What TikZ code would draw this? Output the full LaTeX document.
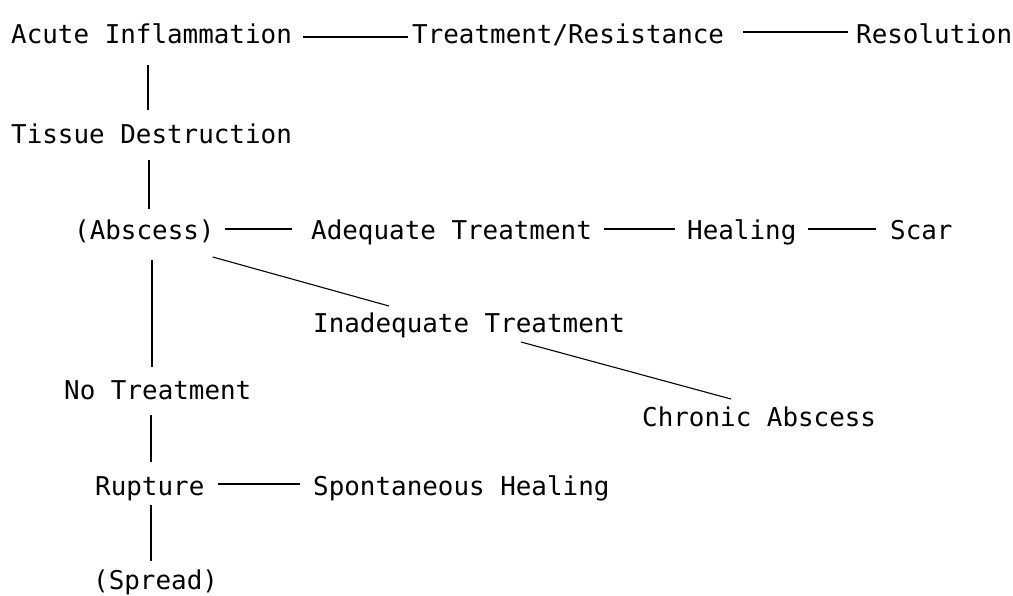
\documentclass[tikz,border=0pt]{standalone}
\usepackage{fontspec}
\newfontfamily\twfont{DejaVu Sans Mono}
\begin{document}
\begin{tikzpicture}[x=1pt,y=-1pt,
  lbl/.style={anchor=base west,inner sep=0pt,font=\twfont\fontsize{25.9pt}{30pt}\selectfont},
  link/.style={line width=1.1pt,black}]
\useasboundingbox (0,0) rectangle (1013,595);
% nodes
\node[lbl] (AI)   at (11,43)  {Acute Inflammation};
\node[lbl] (TR)   at (412,43) {Treatment/Resistance};
\node[lbl] (Res)  at (856,43) {Resolution};
\node[lbl] (TD)   at (11,143) {Tissue Destruction};
\node[lbl] (Abs)  at (74,239) {(Abscess)};
\node[lbl] (AT)   at (311,239) {Adequate Treatment};
\node[lbl] (Heal) at (687,239) {Healing};
\node[lbl] (Scar) at (890,239) {Scar};
\node[lbl] (IT)   at (313,332) {Inadequate Treatment};
\node[lbl] (NT)   at (64,399) {No Treatment};
\node[lbl] (CA)   at (642,426) {Chronic Abscess};
\node[lbl] (Rup)  at (95,495) {Rupture};
\node[lbl] (SH)   at (313,495) {Spontaneous Healing};
\node[lbl] (Spr)  at (93,589) {(Spread)};
% horizontal connectors
\draw[link] ([xshift=11pt,yshift=6pt]AI.base east) -- ([xshift=-4pt,yshift=6pt]TR.base west);
\draw[link] ([xshift=19pt,yshift=11pt]TR.base east) -- ([xshift=-8pt,yshift=11pt]Res.base west);
\draw[link] ([xshift=10pt,yshift=10pt]Abs.base east) -- ([xshift=-19pt,yshift=10pt]AT.base west);
\draw[link] ([xshift=12pt,yshift=10pt]AT.base east) -- ([xshift=-12pt,yshift=10pt]Heal.base west);
\draw[link] ([xshift=11pt,yshift=10pt]Heal.base east) -- ([xshift=-14pt,yshift=10pt]Scar.base west);
\draw[link] ([xshift=13pt,yshift=11pt]Rup.base east) -- ([xshift=-13pt,yshift=11pt]SH.base west);
% diagonal connectors
\draw[link] ([xshift=-2pt,yshift=-18pt]Abs.base east) -- ([xshift=76pt,yshift=26pt]IT.base west);
\draw[link] ([xshift=208pt,yshift=-10pt]IT.base west) -- ([xshift=89pt,yshift=27pt]CA.base west);
% vertical connectors
\draw[link] ([xshift=137pt,yshift=-22pt]AI.base west) -- ([xshift=137pt,yshift=33pt]TD.base west);
\draw[link] ([xshift=138pt,yshift=-17pt]TD.base west) -- ([xshift=75pt,yshift=30pt]Abs.base west);
\draw[link] ([xshift=78pt,yshift=-21pt]Abs.base west) -- ([xshift=88pt,yshift=32pt]NT.base west);
\draw[link] ([xshift=87pt,yshift=-16pt]NT.base west) -- ([xshift=56pt,yshift=33pt]Rup.base west);
\draw[link] ([xshift=56pt,yshift=-10pt]Rup.base west) -- ([xshift=58pt,yshift=28pt]Spr.base west);
\end{tikzpicture}
\end{document}
